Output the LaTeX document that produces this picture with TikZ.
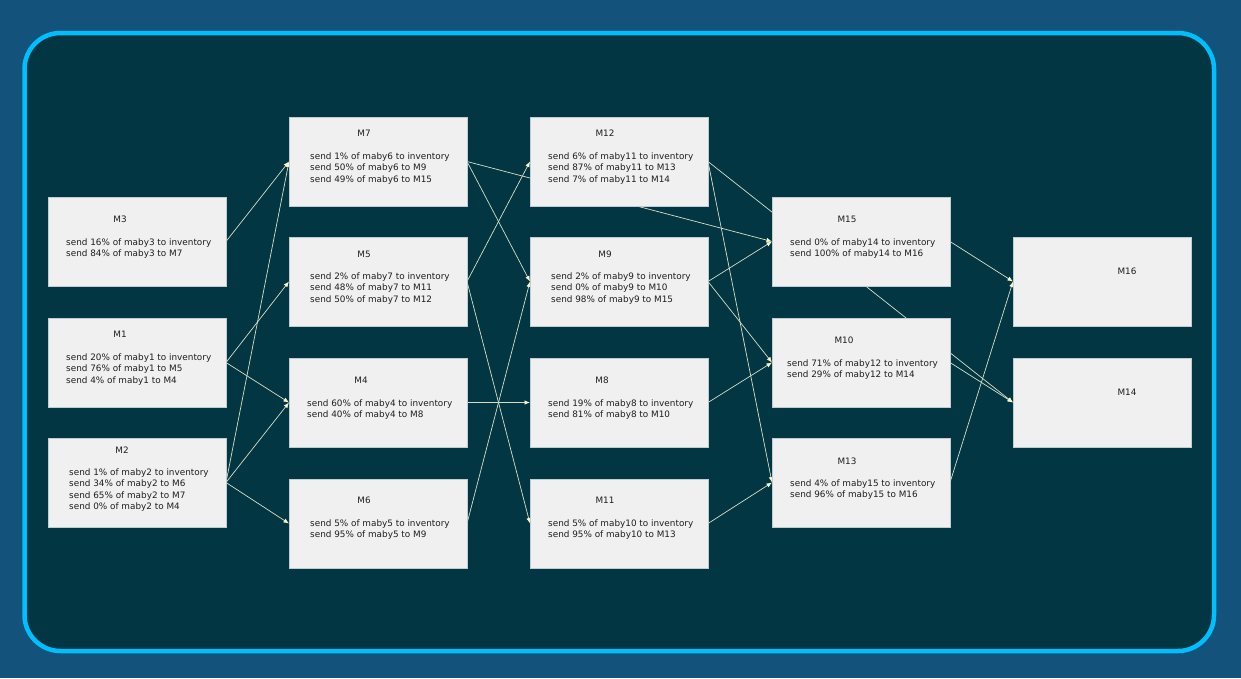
\documentclass[tikz,border=0pt]{standalone}
\usepackage{fontspec}
\setmainfont{DejaVu Sans}
\usetikzlibrary{arrows.meta}
\pgfdeclarelayer{bg}
\pgfdeclarelayer{edges}
\pgfsetlayers{bg,edges,main}
\definecolor{outerbg}{RGB}{19,82,122}
\definecolor{innerbg}{RGB}{2,54,66}
\definecolor{framecol}{RGB}{0,191,255}
\definecolor{boxfill}{RGB}{240,240,240}
\definecolor{boxline}{RGB}{190,205,210}
\definecolor{edgecol}{RGB}{215,222,198}
\definecolor{tipcol}{RGB}{250,244,200}
\definecolor{txt}{RGB}{30,30,30}
\begin{document}
\begin{tikzpicture}[x=1pt,y=-1pt,
  box/.style={draw=boxline, line width=0.5pt, fill=boxfill, minimum width=178pt, minimum height=89pt, inner sep=0pt, outer sep=0pt},
  ttl/.style={text=txt, font=\fontsize{8.85}{11.3}\selectfont, inner sep=0pt},
  body/.style={text=txt, font=\fontsize{8.85}{11.3}\selectfont, inner sep=0pt, anchor=north west, align=left},
  conn/.style={draw=edgecol, line width=0.7pt, -{Latex[length=5.5pt,width=4.5pt,color=tipcol]}}]
\begin{pgfonlayer}{bg}
\fill[outerbg] (0,0) rectangle (1241,678);
\draw[framecol, line width=4.5pt, fill=innerbg, rounded corners=36pt] (24.5,33) rectangle (1214,651);
\end{pgfonlayer}
\useasboundingbox (0,0) rectangle (1241,678);
% boxes
\node[box] (m3) at (137,241.5) {};
\node[box] (m1) at (137,362.5) {};
\node[box] (m2) at (137,482.5) {};
\node[box] (m7) at (378,161.5) {};
\node[box] (m5) at (378,281.5) {};
\node[box] (m4) at (378,402.5) {};
\node[box] (m6) at (378,523.5) {};
\node[box] (m12) at (619,161.5) {};
\node[box] (m9) at (619,281.5) {};
\node[box] (m8) at (619,402.5) {};
\node[box] (m11) at (619,523.5) {};
\node[box] (m15) at (861,241.5) {};
\node[box] (m10) at (861,362.5) {};
\node[box] (m13) at (861,482.5) {};
\node[box] (m16) at (1102,281.5) {};
\node[box] (m14) at (1102,402.5) {};
% titles
\node[ttl] (t3) at (120,219) {M3};
\node[ttl] (t1) at (120,334) {M1};
\node[ttl] (t2) at (122,450) {M2};
\node[ttl] (t7) at (364,133) {M7};
\node[ttl] (t5) at (364,254) {M5};
\node[ttl] (t4) at (361,380) {M4};
\node[ttl] (t6) at (364,500) {M6};
\node[ttl] (t12) at (605,133) {M12};
\node[ttl] (t9) at (605,254) {M9};
\node[ttl] (t8) at (602,380) {M8};
\node[ttl] (t11) at (605,500) {M11};
\node[ttl] (t15) at (847,219) {M15};
\node[ttl] (t10) at (844,340) {M10};
\node[ttl] (t13) at (847,461) {M13};
\node[ttl] (t16) at (1127,271) {M16};
\node[ttl] (t14) at (1127,392) {M14};
% bodies
\node[body] (b3) at (66,238.5) {send 16\% of maby3 to inventory\\send 84\% of maby3 to M7};
\node[body] (b1) at (66,353.5) {send 20\% of maby1 to inventory\\send 76\% of maby1 to M5\\send 4\% of maby1 to M4};
\node[body] (b2) at (69,468.5) {send 1\% of maby2 to inventory\\send 34\% of maby2 to M6\\send 65\% of maby2 to M7\\send 0\% of maby2 to M4};
\node[body] (b7) at (310,152.5) {send 1\% of maby6 to inventory\\send 50\% of maby6 to M9\\send 49\% of maby6 to M15};
\node[body] (b5) at (310,272.5) {send 2\% of maby7 to inventory\\send 48\% of maby7 to M11\\send 50\% of maby7 to M12};
\node[body] (b4) at (307,399.5) {send 60\% of maby4 to inventory\\send 40\% of maby4 to M8};
\node[body] (b6) at (310,519.5) {send 5\% of maby5 to inventory\\send 95\% of maby5 to M9};
\node[body] (b12) at (548,152.5) {send 6\% of maby11 to inventory\\send 87\% of maby11 to M13\\send 7\% of maby11 to M14};
\node[body] (b9) at (551,272.5) {send 2\% of maby9 to inventory\\send 0\% of maby9 to M10\\send 98\% of maby9 to M15};
\node[body] (b8) at (548,399.5) {send 19\% of maby8 to inventory\\send 81\% of maby8 to M10};
\node[body] (b11) at (548,519.5) {send 5\% of maby10 to inventory\\send 95\% of maby10 to M13};
\node[body] (b15) at (790,238.5) {send 0\% of maby14 to inventory\\send 100\% of maby14 to M16};
\node[body] (b10) at (787,359.5) {send 71\% of maby12 to inventory\\send 29\% of maby12 to M14};
\node[body] (b13) at (790,479.5) {send 4\% of maby15 to inventory\\send 96\% of maby15 to M16};
% connectors
\begin{pgfonlayer}{edges}
\draw[conn] (m3.east) -- (m7.west);
\draw[conn] (m1.east) -- (m5.west);
\draw[conn] (m1.east) -- (m4.west);
\draw[conn] (m2.east) -- (m7.west);
\draw[conn] (m2.east) -- (m4.west);
\draw[conn] (m2.east) -- (m6.west);
\draw[conn] (m7.east) -- (m9.west);
\draw[conn] (m7.east) -- (m15.west);
\draw[conn] (m5.east) -- (m12.west);
\draw[conn] (m5.east) -- (m11.west);
\draw[conn] (m4.east) -- (m8.west);
\draw[conn] (m6.east) -- (m9.west);
\draw[conn] (m12.east) -- (m13.west);
\draw[conn] (m12.east) -- (m14.west);
\draw[conn] (m9.east) -- (m15.west);
\draw[conn] (m9.east) -- (m10.west);
\draw[conn] (m8.east) -- (m10.west);
\draw[conn] (m11.east) -- (m13.west);
\draw[conn] (m15.east) -- (m16.west);
\draw[conn] (m10.east) -- (m14.west);
\draw[conn] (m13.east) -- (m16.west);
\end{pgfonlayer}
\end{tikzpicture}
\end{document}
